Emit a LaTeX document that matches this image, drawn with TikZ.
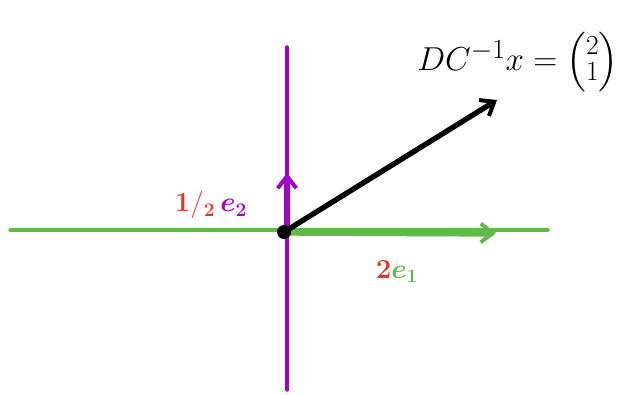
\documentclass[tikz,border=0pt]{standalone}
\usepackage{amsmath,bm}
\usetikzlibrary{arrows.meta}
\definecolor{axgreen}{RGB}{98,186,70}
\definecolor{axpurple}{RGB}{160,0,200}
\definecolor{lblred}{RGB}{232,52,40}
\begin{document}
\begin{tikzpicture}[x=0.75pt,y=-0.75pt,
  axisline/.style={line width=2.6pt, line cap=round},
  vecline/.style={line cap=round, -{Straight Barb[length=9pt,width=14pt,line width=3pt]}},
  lbl/.style={inner sep=0pt, font=\fontsize{22}{24}\selectfont}]
\useasboundingbox (0,0) rectangle (628,394);
\fill[white] (0,0) rectangle (628,394);
% axes
\coordinate (xl) at (10,230);
\coordinate (xr) at (548,230);
\coordinate (yt) at (287,47);
\coordinate (yb) at (287,390);
\coordinate (O) at (284,232);
\coordinate (e1) at (496,233);
\coordinate (e2) at (287,173);
\coordinate (v) at (497,100);
\draw[axisline, axgreen] (xl) -- (xr);
\draw[axisline, axpurple] (yt) -- (yb);
% vectors
\draw[vecline, axgreen, line width=5.5pt] (O) -- (e1);
\draw[vecline, axpurple, line width=4.5pt] (287,232) -- (e2);
\draw[vecline, black, line width=4pt] (O) -- (v);
\fill[black] (O) circle[radius=7];
% labels
\node[lbl, anchor=center] (l2) at (211,205) {\textcolor{lblred}{$\mathbf{1/_{2}}$}\,\textcolor{axpurple}{$\bm{e_2}$}};
\node[lbl, anchor=center] (l1) at (397,272) {\textcolor{lblred}{$\mathbf{2}$}\textcolor{axgreen}{$\bm{e_1}$}};
\node[lbl, anchor=center, font=\fontsize{30}{32}\selectfont] (eq) at (518,62) {\renewcommand{\arraystretch}{0.62}$DC^{-1}x=\begin{pmatrix}\scriptstyle 2\\ \scriptstyle 1\end{pmatrix}$};
\end{tikzpicture}
\end{document}
